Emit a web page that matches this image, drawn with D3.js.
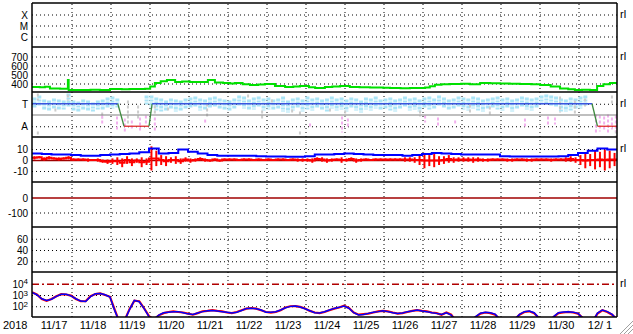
<!DOCTYPE html>
<html>
<head>
<meta charset="utf-8">
<script src="https://cdn.jsdelivr.net/npm/d3@7"></script>
<style>
html,body{margin:0;padding:0;background:#fff;}
svg text{font-family:"Liberation Sans",Arial,sans-serif;font-size:11px;fill:#000;}
svg .ytick text{font-size:10px;}
</style>
</head>
<body>
<svg id="chart" width="633" height="334"></svg>
<script>
// ---- data (day offsets from 2018-11-17 00:00 UT) ----
const dateLabels = ["11/17","11/18","11/19","11/20","11/21","11/22","11/23","11/24","11/25","11/26","11/27","11/28","11/29","11/30","12/ 1"];

// solar wind speed [day, km/s]
const speed = [[0,355],[0.2,352],[0.33,358],[0.46,340],[0.6,338],[0.72,335],[0.9,335],[0.92,433],[0.94,322],[1.23,322],[1.5,325],[1.74,322],[2.0,333],[2.3,330],[2.5,333],[2.9,335],[3.03,360],[3.15,400],[3.3,420],[3.46,433],[3.67,411],[3.85,418],[4.05,411],[4.31,411],[4.51,433],[4.69,405],[4.9,400],[5.08,395],[5.2,400],[5.4,385],[5.59,378],[5.8,382],[5.97,389],[6.23,367],[6.49,356],[6.7,362],[6.87,367],[7.1,352],[7.26,344],[7.51,356],[7.7,360],[7.9,367],[8.15,356],[8.4,352],[8.67,350],[9.0,347],[9.18,345],[9.45,342],[9.69,345],[10.08,350],[10.2,365],[10.33,380],[10.5,385],[10.72,389],[11.0,392],[11.23,385],[11.49,400],[11.75,397],[12.0,395],[12.25,392],[12.51,389],[12.8,385],[13.03,378],[13.3,360],[13.54,340],[13.75,330],[13.92,322],[14.1,325],[14.31,322],[14.49,367],[14.65,385],[14.82,400],[15,411]];

// IMF sector: +100 toward, -100 away
const sectorDays = [0,2.2,2.36,3.0,3.08,14.36,14.5,15];
const sectorVals = [100,100,-100,-100,100,100,-100,-100];

// IMF direction scatter, 3h bins (upper/lower edge of the light blue band)
const cyanHi = [151,169,134,125,142,134,125,187, 125,116,134,125,107,125,134,151, 160,142,null,null,null,null,null,169, 169,151,142,125,142,134,125,142, 151,160,142,134,151,160,142,134, 125,142,169,160,134,151,160,142, 151,134,142,160,125,142,151,134, 160,142,151,134,142,160,142,151, 134,151,142,125,151,142,160,134, 142,151,134,142,160,142,151,134, 151,160,142,169,151,134,142,160, 151,142,160,151,134,142,151,160, 142,151,134,142,160,151,142,151, 169,178,169,160,142,134,151,142, 160,169,null,null,null,null,null,null];
const cyanLo = [53,71,45,36,53,36,45,71, 36,27,45,36,27,45,36,53, 53,62,null,null,null,null,null,89, 62,36,18,36,53,27,36,45, 53,62,36,36,53,71,45,36, 27,45,71,53,36,45,62,36, 45,36,53,27,18,36,53,27, 45,36,62,36,18,53,36,45, 27,53,36,18,45,36,53,36, 45,36,27,53,62,36,45,27, 53,36,45,71,53,36,45,62, 45,36,53,36,27,45,53,36, 36,53,27,45,62,45,36,53, 89,98,80,62,18,27,36,45, 53,80,null,null,null,null,null,null];
const pinkPts = [[1.8,-9,-98],[2.18,-18,-142],[2.38,-36,-160],[2.56,-53,-125],[2.77,-27,-151],[2.92,-9,-98],[3.15,-27,-142],[4.44,-45,-80],[7.13,-80,-125],[7.95,-18,-160],[8.1,-36,-125],[10.08,-9,-71],[10.41,-27,-107],[10.85,-53,-89],[12.64,-36,-107],[13.23,-18,-98],[13.41,-27,-89],[14.46,0,-160],[14.56,-9,-151],[14.67,-18,-142],[14.77,0,-160],[14.87,-27,-133],[14.97,-9,-151]];
const grayPts = [[0.15,187,125],[0.15,-151,-200],[0.6,53,18],[0.92,178,125],[1.8,18,-36],[2.46,125,-89],[2.72,80,-53],[3.15,80,-9],[3.49,62,36],[4.49,98,-36],[5.54,178,142],[5.9,36,-53],[6.15,134,98],[6.67,45,0],[6.87,27,-18],[6.87,-151,-196],[7.64,53,9],[8.03,36,-18],[9.95,36,-18],[11.23,89,18],[11.74,71,0],[13.54,160,18],[13.92,125,-9],[14.18,142,53],[14.87,169,80],[14.97,-142,-196]];

// IMF |B| (6h bins) and Bz high/low within 3h bins, nT
const btVals = [5.5,5,4.5,4.5, 4,3.5,3.5,4, 4.5,5,5.5,6.5, 10,5.5,6,9, 7,5.5,4,3.5, 3.5,3.5,3.5,3, 2.7,2.7,2.5,2.5, 3,4.5,4.5,5, 5.5,5,4.5,4, 4,4,3.5,4, 5,6,5.5,5, 4.5,4.5,4.5,4.5, 3,2.7,2.7,2.7, 2.7,2.7,3,4, 6,8,10,9];
const bzHi = [3,3,2,3,2,2,2,3, 1,1,1,1,0,1,0,0, 1,2,1,3,1,1,2,1, 12,8,4,3,2,3,1,2, 1,1,2,1,0,1,0,1, 1,1,0,1,1,0,1,0, 1,0,1,1,0,1,1,1, 1,1,2,2,1,1,1,2, 1,2,1,1,1,0,1,1, 1,1,1,1,2,2,2,4, 6,4,5,3,3,4,2,2, 2,2,2,2,1,1,1,1, 1,1,1,1,1,1,1,1, 1,1,1,1,1,2,3,2, 4,6,5,8,7,9,8,6];
const bzLo = [0,1,-1,0,0,-1,0,0, -1,-1,-1,-2,-1,-2,-3,-4, -4,-5,-7,-4,-6,-3,-7,-5, -10,-6,-5,-6,-3,-4,-4,-2, -3,-2,-1,-2,-2,-1,-2,-1, -1,-1,-1,-1,-1,-1,-1,-1, -1,-1,-1,-1,-1,-1,-2,-2, -2,-3,-1,-2,-3,-2,-1,-3, -2,-1,-3,-2,-1,-1,-1,-1, -1,-1,-1,-1,-2,-2,-3,-5, -8,-6,-7,-5,-4,-3,-3,-2, -2,-2,-3,-2,-2,-2,-1,-1, -1,-2,-2,-1,-1,-2,-2,-1, -1,-1,-2,-1,-1,-2,-2,-3, -5,-8,-6,-9,-7,-10,-8,-6];

// >2MeV electron flux, 3h samples, two satellites
const fluxRed = [1600,1000,400,280,400,700,1100,1000, 800,400,250,250,700,1100,1250,900, 630,40,3,5,50,280,250,60, 12,6,14,22,28,32,28,25, 20,16,22,32,35,40,35,32, 25,22,28,40,56,63,56,40, 28,25,28,40,70,90,93,80, 56,35,25,22,28,40,56,70, 100,63,25,16,18,20,25,32, 35,32,25,20,22,28,35,40, 35,32,25,22,16,25,16,4, 2.5,2.5,4,10,20,25,22,16, 6,3,3,6,16,28,32,22, 8,3,3,10,22,25,28,25, 20,8,3,4,20,40,28,16, 6];
const fluxBlue = [1500,950,420,300,380,680,1050,1050, 750,420,260,240,650,1150,1200,950, 600,35,3,5,45,300,230,55, 11,6,15,24,27,30,30,24, 19,17,23,30,36,38,34,30, 26,23,27,38,58,60,54,42, 27,26,29,42,66,88,95,78, 54,36,24,23,29,42,58,72, 95,60,24,15,17,21,26,30, 36,30,24,21,23,30,34,42, 34,30,24,21,17,24,15,4, 2.5,2.5,4,11,22,26,24,18, 6,3,3,6,17,30,34,24, 8,3,3,11,24,28,30,27, 21,8,3,4,22,42,30,17, 6];

// ---- layout ----
const X0 = 32, X1 = 617;
const bounds = [[3,47],[47,92],[92,137],[137,182],[182,227],[227,272],[272,317]];
const DAY = 864e5, start = Date.UTC(2018,10,17);
const t = d => new Date(start + d*DAY);

const svg = d3.select("#chart");
const x = d3.scaleUtc().domain([t(0), t(15)]).range([X0, X1]);

const yX = d3.scaleLog().domain([1e-7,1e-3]).range([47,3]);
const yV = d3.scaleLinear().domain([300,800]).range([92,47]);
const yS = d3.scaleLinear().domain([-200,200]).range([137,92]);
const yB = d3.scaleLinear().domain([-20.5,20.5]).range([182,137]);
const yD = d3.scaleLinear().domain([-200,100]).range([227,182]);
const yK = d3.scaleLinear().domain([0,80]).range([272,227]);
const yE = d3.scaleLog().domain([10,1e5]).range([317,272]);

// clip paths per panel
const defs = svg.append("defs");
bounds.forEach((b,i)=>{
  defs.append("clipPath").attr("id","clip"+i)
    .append("rect").attr("x",X0).attr("y",b[0]).attr("width",X1-X0).attr("height",b[1]-b[0]);
});

// vertical day grid
const vg = svg.append("g").attr("transform",`translate(0.5,317)`)
  .call(d3.axisBottom(x).tickValues(d3.range(1,15).map(t)).tickSize(-314).tickFormat(""));
vg.select(".domain").remove();
vg.selectAll(".tick line").attr("stroke","#000").attr("stroke-dasharray","1,3");

// date labels
const xl = svg.append("g").attr("transform",`translate(2,317)`)
  .call(d3.axisBottom(x).tickValues(d3.range(15).map(d=>t(d+0.5))).tickSize(0).tickPadding(4)
    .tickFormat((d,i)=>dateLabels[i]));
xl.select(".domain").remove();
xl.attr("font-size",null).attr("font-family",null);
svg.append("text").attr("x",3).attr("y",329).text("2018");

// y axes with dotted grid
function yAxis(scale, vals, fmt){
  const g = svg.append("g").attr("class","ytick").attr("transform",`translate(${X0},0.5)`)
    .call(d3.axisLeft(scale).tickValues(vals).tickFormat(fmt).tickSize(-(X1-X0)).tickPadding(4));
  g.select(".domain").remove();
  g.attr("font-size",null).attr("font-family",null);
  g.selectAll(".tick line").attr("stroke","#000").attr("stroke-dasharray","1,3");
  g.selectAll(".tick text").attr("dy","0.36em");
  return g;
}
const flareClass = ["X","M","C"];
yAxis(yX,[1e-4,1e-5,1e-6],(d,i)=>flareClass[i]);
yAxis(yV,[700,600,500,400],d=>d);
yAxis(yS,[100,-100],d=>d>0?"T":"A");
const gB = yAxis(yB,[10,0,-10],d=>d);
const gD = yAxis(yD,[0,-100],d=>d);
yAxis(yK,[60,40,20],d=>d);
const gE = yAxis(yE,[1e4,1e3,1e2],()=> "");
gE.selectAll(".tick text").each(function(d){
  const s = d3.select(this);
  s.text("10");
  s.append("tspan").attr("dy","-0.45em").style("font-size","8px").text(Math.round(Math.log10(d)));
});

// special reference lines
gB.selectAll(".tick line").filter(d=>d===0).attr("stroke","#a00000").attr("stroke-width",1.3).attr("stroke-dasharray",null);
gD.selectAll(".tick line").filter(d=>d===0).attr("stroke","#a00000").attr("stroke-width",1.3).attr("stroke-dasharray",null);
gE.selectAll(".tick line").filter(d=>d===1e4).attr("stroke","#b00000").attr("stroke-width",1.3).attr("stroke-dasharray","7,3,2,3");

// ---- panel 2: speed ----
svg.append("path").datum(speed).attr("clip-path","url(#clip1)")
  .attr("fill","none").attr("stroke","#00e000").attr("stroke-width",2)
  .attr("d", d3.line().curve(d3.curveStepAfter).x(d=>x(t(d[0]))).y(d=>yV(d[1])));

// ---- panel 3: sector ----
const g3 = svg.append("g").attr("clip-path","url(#clip2)");
const bins = d3.range(cyanHi.length);
g3.selectAll("line.cy").data(bins.filter(i=>cyanHi[i]!==null)).join("line").attr("class","cy")
  .attr("x1",i=>x(t((i+0.5)/8))).attr("x2",i=>x(t((i+0.5)/8)))
  .attr("y1",i=>yS(cyanHi[i])).attr("y2",i=>yS(cyanLo[i]))
  .attr("stroke","#aae4f6").attr("stroke-width",4).attr("stroke-dasharray","3,1,2,1");
g3.selectAll("line.gr").data(grayPts).join("line").attr("class","gr")
  .attr("x1",d=>x(t(d[0]))).attr("x2",d=>x(t(d[0])))
  .attr("y1",d=>yS(d[1])).attr("y2",d=>yS(d[2]))
  .attr("stroke","#cccccc").attr("stroke-width",2).attr("stroke-dasharray","3,2");
g3.selectAll("line.pk").data(pinkPts).join("line").attr("class","pk")
  .attr("x1",d=>x(t(d[0]))).attr("x2",d=>x(t(d[0])))
  .attr("y1",d=>yS(d[1])).attr("y2",d=>yS(d[2]))
  .attr("stroke","#f2b0ee").attr("stroke-width",2).attr("stroke-dasharray","3,2");
g3.append("line").attr("x1",X0).attr("x2",X1).attr("y1",yS(0)+0.5).attr("y2",yS(0)+0.5)
  .attr("stroke","#808080").attr("stroke-width",1.2);
g3.selectAll("line.sec").data(d3.range(sectorDays.length-1)).join("line").attr("class","sec")
  .attr("x1",i=>x(t(sectorDays[i]))).attr("x2",i=>x(t(sectorDays[i+1])))
  .attr("y1",i=>yS(sectorVals[i])+0.5).attr("y2",i=>yS(sectorVals[i+1])+0.5)
  .attr("stroke-width",1.3)
  .attr("stroke",i=>sectorVals[i]!==sectorVals[i+1] ? "#3f8a3f" : (sectorVals[i]>0 ? "#3a55e0" : "#e03030"));

// ---- panel 4: IMF ----
const g4 = svg.append("g").attr("clip-path","url(#clip3)");
const bzBins = bzHi.map((v,i)=>[i/8, v, bzLo[i]]);
// spread within each 3h bin
g4.selectAll("line.bz").data(bzBins).join("line").attr("class","bz")
  .attr("x1",d=>x(t(d[0]+1/16))).attr("x2",d=>x(t(d[0]+1/16)))
  .attr("y1",d=>yB(d[1])).attr("y2",d=>yB(d[2]))
  .attr("stroke","#ff0000").attr("stroke-width",2);
// bin mid-level trace
g4.append("path").datum(bzBins.concat([[15, bzHi[bzHi.length-1], bzLo[bzLo.length-1]]]))
  .attr("fill","none").attr("stroke","#ff0000").attr("stroke-width",2)
  .attr("d", d3.line().curve(d3.curveStepAfter).x(d=>x(t(d[0]))).y(d=>yB((d[1]+d[2])/2)));
const btPts = btVals.map((v,i)=>[i/4, v]).concat([[15, btVals[btVals.length-1]]]);
g4.append("path").datum(btPts).attr("fill","none").attr("stroke","#0000ff").attr("stroke-width",2)
  .attr("d", d3.line().curve(d3.curveStepAfter).x(d=>x(t(d[0]))).y(d=>yB(d[1])));

// ---- panel 7: electron flux ----
const g7 = svg.append("g").attr("clip-path","url(#clip6)");
const fluxLine = d3.line().x((d,i)=>x(t(i/8))).y(d=>yE(d));
g7.append("path").datum(fluxRed).attr("fill","none").attr("stroke","#ff0000").attr("stroke-width",2.2).attr("d",fluxLine);
g7.append("path").datum(fluxBlue).attr("fill","none").attr("stroke","#0000ff").attr("stroke-width",1.5).attr("d",fluxLine);

// ---- frame ----
const frame = svg.append("g").attr("stroke","#000").attr("stroke-width",1.5);
bounds.forEach(b=>{
  frame.append("line").attr("x1",X0).attr("x2",X1).attr("y1",b[0]).attr("y2",b[0]);
});
frame.append("line").attr("x1",X0).attr("x2",X1).attr("y1",317).attr("y2",317);
frame.append("line").attr("x1",X0).attr("x2",X0).attr("y1",3).attr("y2",317);
frame.append("line").attr("x1",X1).attr("x2",X1).attr("y1",3).attr("y2",317);

// right-hand "rl" marks
[yX(1e-4), yV(700), yS(100), yB(10), yE(1e4)].forEach(y=>{
  svg.append("text").attr("x",620).attr("y",y).attr("dy","0.36em").text("rl");
});

// window resize grip
[0,4,8].forEach(o=>{
  svg.append("line").attr("x1",620+o).attr("y1",334).attr("x2",633).attr("y2",321+o)
    .attr("stroke","#a0a0a0").attr("stroke-width",1);
});
</script>
</body>
</html>
